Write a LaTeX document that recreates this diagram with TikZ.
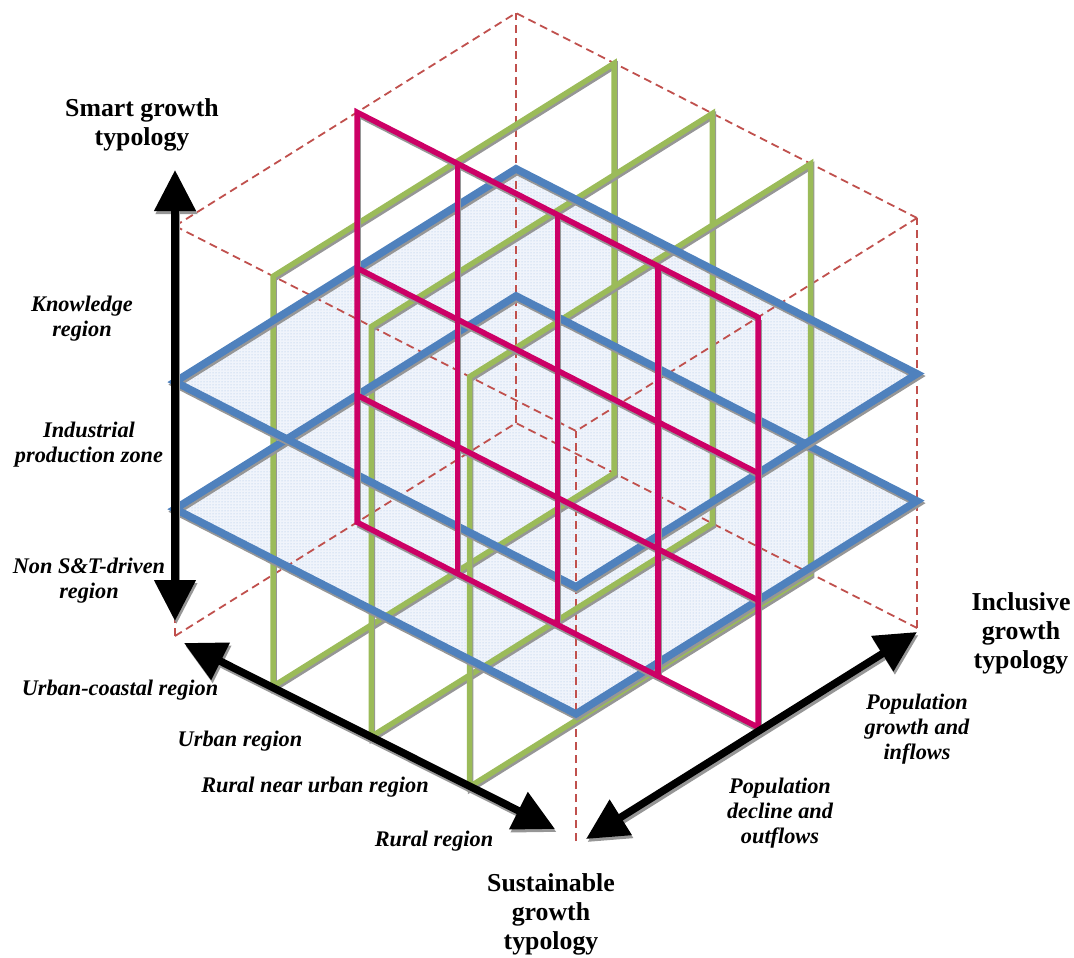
\documentclass[tikz,border=0pt]{standalone}
\usepackage{fontspec}
\setmainfont{Liberation Serif}
\usetikzlibrary{arrows.meta,patterns}
\definecolor{cubered}{RGB}{192,80,77}
\definecolor{pblue}{RGB}{79,129,189}
\definecolor{pgreen}{RGB}{155,187,89}
\definecolor{pmag}{RGB}{204,0,102}
\definecolor{pfill}{RGB}{240,244,251}
\definecolor{pdot}{RGB}{160,188,228}
\definecolor{shade}{RGB}{150,150,150}
\tikzset{
  cubeedge/.style={draw=cubered, line width=1.8pt, dash pattern=on 8pt off 5pt},
  shadowline/.style={draw=shade, xshift=1pt, yshift=-2.5pt, line join=miter},
  greenline/.style={draw=pgreen, line width=5.5pt, line join=miter},
  blueline/.style={draw=pblue, line width=7.5pt, line join=miter},
  magline/.style={draw=pmag, line width=5.5pt, line join=miter},
  bluefill/.style={fill=pfill},
  bluedots/.style={pattern=dots, pattern color=pdot},
  bigarrow/.style={line width=7.5pt, {Triangle[length=41pt,width=40pt]}-{Triangle[length=41pt,width=40pt]}},
  titletext/.style={font=\fontsize{25.8}{29}\selectfont\bfseries, align=center, inner sep=0pt},
  labeltext/.style={font=\fontsize{22.3}{25}\selectfont\bfseries\itshape, align=center, inner sep=0pt},
}
\begin{document}
\begin{tikzpicture}[x=1pt,y=-1pt]
\useasboundingbox (0,0) rectangle (1074,958);

\begin{scope}[shift={(516pt,-423pt)}, x={(401pt,-205pt)}, y={(-341pt,-213pt)}, z={(0pt,410pt)}]
  % blue plane fills
  \foreach \c in {0.31,0.62} {
    \fill[bluefill] (0,0,\c)--(1,0,\c)--(1,1,\c)--(0,1,\c)--cycle;
    \fill[bluedots] (0,0,\c)--(1,0,\c)--(1,1,\c)--(0,1,\c)--cycle;
  }
  % dashed cube edges
  \draw[cubeedge] (0,1,1)--(0,0,1)--(1,0,1);
  \draw[cubeedge] (0,1,1)--(1,1,1)--(1,0,1);
  \draw[cubeedge] (0,0,0)--(0,0,1);
  \draw[cubeedge] (1,1,0)--(1,1,1);
  \draw[cubeedge] (1,0,0)--(1,0,1);
  \draw[cubeedge] (0,1,0)--(0,1,1);
  \draw[cubeedge] (0,1,0)--(0,0,0)--(1,0,0);
  % green planes
  \foreach \a in {0.245,0.49,0.735} {
    \draw[shadowline, line width=5.5pt] (\a,0,0)--(\a,1,0)--(\a,1,1)--(\a,0,1)--cycle;
    \draw[greenline] (\a,0,0)--(\a,1,0)--(\a,1,1)--(\a,0,1)--cycle;
  }
  % blue planes
  \foreach \c in {0.31,0.62} {
    \draw[shadowline, line width=7.5pt] (0,0,\c)--(1,0,\c)--(1,1,\c)--(0,1,\c)--cycle;
    \draw[blueline] (0,0,\c)--(1,0,\c)--(1,1,\c)--(0,1,\c)--cycle;
  }
  % magenta plane
  \def\bm{0.466}
  \foreach \a in {0,0.25,0.5,0.75,1} {
    \draw[shadowline, line width=5.5pt] (\a,\bm,0)--(\a,\bm,1);
  }
  \foreach \c in {0,0.31,0.62,1} {
    \draw[shadowline, line width=5.5pt] (0,\bm,\c)--(1,\bm,\c);
  }
  \draw[magline] (0,\bm,0)--(1,\bm,0)--(1,\bm,1)--(0,\bm,1)--cycle;
  \foreach \a in {0.25,0.5,0.75} {
    \draw[magline] (\a,\bm,0)--(\a,\bm,1);
  }
  \foreach \c in {0.31,0.62} {
    \draw[magline] (0,\bm,\c)--(1,\bm,\c);
  }
\end{scope}

% axis arrows
\coordinate (vtop) at (175,170);
\coordinate (vbot) at (175,621);
\coordinate (ltop) at (184,643);
\coordinate (lbot) at (555,829);
\coordinate (rbot) at (586,839);
\coordinate (rtop) at (917,632);
\draw[bigarrow, draw=shade, fill=shade] ([shift={(1.5pt,-3pt)}]vbot) -- ([shift={(1.5pt,-3pt)}]vtop);
\draw[bigarrow, draw=shade, fill=shade] ([shift={(1.5pt,-3pt)}]ltop) -- ([shift={(1.5pt,-3pt)}]lbot);
\draw[bigarrow, draw=shade, fill=shade] ([shift={(1.5pt,-3pt)}]rbot) -- ([shift={(1.5pt,-3pt)}]rtop);
\draw[bigarrow, draw=black, fill=black] (vbot) -- (vtop);
\draw[bigarrow, draw=black, fill=black] (ltop) -- (lbot);
\draw[bigarrow, draw=black, fill=black] (rbot) -- (rtop);

% titles
\node[titletext] (tsmart) at (142,125) {Smart growth\\typology};
\node[titletext] (tsust) at (551,914) {Sustainable\\growth\\typology};
\node[titletext] (tincl) at (1021,633) {Inclusive\\growth\\typology};

% labels
\node[labeltext] (lknow) at (82,319) {Knowledge\\region};
\node[labeltext] (lind) at (89,445) {Industrial\\production zone};
\node[labeltext] (lnon) at (89,581) {Non S\&T-driven\\region};
\node[labeltext] (lcoast) at (120,690) {Urban-coastal region};
\node[labeltext] (lurban) at (240,741) {Urban region};
\node[labeltext] (lrnear) at (315,787) {Rural near urban region};
\node[labeltext] (lrural) at (434,841) {Rural region};
\node[labeltext] (lpgrow) at (917,729) {Population\\growth and\\inflows};
\node[labeltext] (lpdec) at (780,813) {Population\\decline and\\outflows};
\end{tikzpicture}
\end{document}
